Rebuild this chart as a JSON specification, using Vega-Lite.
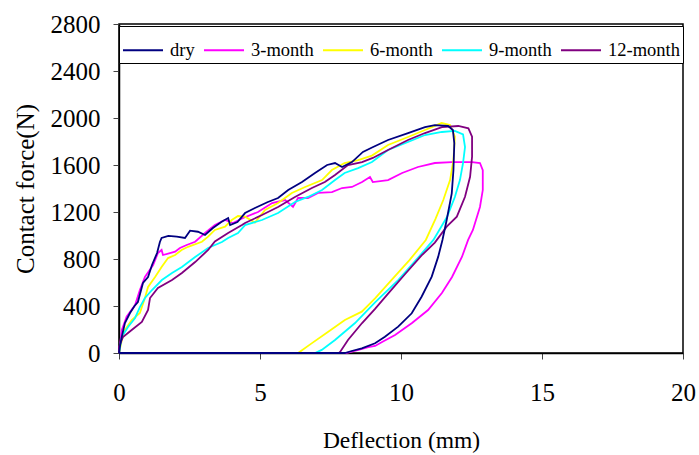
{
"$schema": "https://vega.github.io/schema/vega-lite/v6.json",
"width": 564, "height": 329,
"autosize": {"type": "none"},
"padding": {"left": 119, "top": 24, "right": 16, "bottom": 102},
"background": "white",
"config": {"view": {"stroke": "black", "strokeWidth": 1.5}, "font": "Liberation Serif",
  "axis": {"labelFont": "Liberation Serif", "titleFont": "Liberation Serif"},
  "legend": {"labelFont": "Liberation Serif"}},
"data": {"values": [
{"s":"3-month","i":0,"x":0,"y":0},{"s":"3-month","i":1,"x":0.1,"y":196},{"s":"3-month","i":2,"x":0.27,"y":309},{"s":"3-month","i":3,"x":0.57,"y":408},{"s":"3-month","i":4,"x":0.74,"y":536},{"s":"3-month","i":5,"x":0.92,"y":647},{"s":"3-month","i":6,"x":1.21,"y":749},{"s":"3-month","i":7,"x":1.38,"y":851},{"s":"3-month","i":8,"x":1.51,"y":877},{"s":"3-month","i":9,"x":1.56,"y":834},{"s":"3-month","i":10,"x":1.99,"y":862},{"s":"3-month","i":11,"x":2.16,"y":894},{"s":"3-month","i":12,"x":2.4,"y":919},{"s":"3-month","i":13,"x":2.7,"y":947},{"s":"3-month","i":14,"x":3.05,"y":1021},{"s":"3-month","i":15,"x":3.4,"y":1089},{"s":"3-month","i":16,"x":3.76,"y":1132},{"s":"3-month","i":17,"x":4.04,"y":1106},{"s":"3-month","i":18,"x":4.4,"y":1149},{"s":"3-month","i":19,"x":4.93,"y":1200},{"s":"3-month","i":20,"x":5.43,"y":1276},{"s":"3-month","i":21,"x":5.89,"y":1302},{"s":"3-month","i":22,"x":6.17,"y":1243},{"s":"3-month","i":23,"x":6.35,"y":1319},{"s":"3-month","i":24,"x":6.7,"y":1319},{"s":"3-month","i":25,"x":7.06,"y":1362},{"s":"3-month","i":26,"x":7.55,"y":1370},{"s":"3-month","i":27,"x":7.91,"y":1404},{"s":"3-month","i":28,"x":8.26,"y":1413},{"s":"3-month","i":29,"x":8.62,"y":1455},{"s":"3-month","i":30,"x":8.9,"y":1498},{"s":"3-month","i":31,"x":9.0,"y":1455},{"s":"3-month","i":32,"x":9.54,"y":1472},{"s":"3-month","i":33,"x":10.04,"y":1532},{"s":"3-month","i":34,"x":10.6,"y":1583},{"s":"3-month","i":35,"x":11.2,"y":1617},{"s":"3-month","i":36,"x":11.8,"y":1625},{"s":"3-month","i":37,"x":12.52,"y":1625},{"s":"3-month","i":38,"x":12.8,"y":1617},{"s":"3-month","i":39,"x":12.9,"y":1557},{"s":"3-month","i":40,"x":12.9,"y":1387},{"s":"3-month","i":41,"x":12.8,"y":1243},{"s":"3-month","i":42,"x":12.55,"y":1047},{"s":"3-month","i":43,"x":12.38,"y":962},{"s":"3-month","i":44,"x":12.16,"y":817},{"s":"3-month","i":45,"x":11.81,"y":647},{"s":"3-month","i":46,"x":11.45,"y":511},{"s":"3-month","i":47,"x":10.96,"y":366},{"s":"3-month","i":48,"x":10.39,"y":255},{"s":"3-month","i":49,"x":9.79,"y":153},{"s":"3-month","i":50,"x":9.33,"y":94},{"s":"3-month","i":51,"x":9.08,"y":60},{"s":"3-month","i":52,"x":8.84,"y":50},{"s":"3-month","i":53,"x":8.49,"y":26},{"s":"3-month","i":54,"x":8.05,"y":0},{"s":"3-month","i":55,"x":0,"y":0},
{"s":"6-month","i":0,"x":0,"y":0},{"s":"6-month","i":1,"x":0.1,"y":111},{"s":"6-month","i":2,"x":0.21,"y":196},{"s":"6-month","i":3,"x":0.45,"y":281},{"s":"6-month","i":4,"x":0.74,"y":340},{"s":"6-month","i":5,"x":0.92,"y":468},{"s":"6-month","i":6,"x":1.03,"y":562},{"s":"6-month","i":7,"x":1.28,"y":647},{"s":"6-month","i":8,"x":1.51,"y":732},{"s":"6-month","i":9,"x":1.74,"y":808},{"s":"6-month","i":10,"x":1.99,"y":834},{"s":"6-month","i":11,"x":2.22,"y":877},{"s":"6-month","i":12,"x":2.45,"y":904},{"s":"6-month","i":13,"x":2.94,"y":947},{"s":"6-month","i":14,"x":3.16,"y":990},{"s":"6-month","i":15,"x":3.4,"y":1047},{"s":"6-month","i":16,"x":3.76,"y":1075},{"s":"6-month","i":17,"x":4.0,"y":1132},{"s":"6-month","i":18,"x":4.22,"y":1166},{"s":"6-month","i":19,"x":4.47,"y":1160},{"s":"6-month","i":20,"x":4.82,"y":1110},{"s":"6-month","i":21,"x":5.18,"y":1217},{"s":"6-month","i":22,"x":5.64,"y":1276},{"s":"6-month","i":23,"x":6.13,"y":1362},{"s":"6-month","i":24,"x":6.6,"y":1413},{"s":"6-month","i":25,"x":7.2,"y":1472},{"s":"6-month","i":26,"x":7.55,"y":1557},{"s":"6-month","i":27,"x":8.0,"y":1617},{"s":"6-month","i":28,"x":8.48,"y":1642},{"s":"6-month","i":29,"x":8.97,"y":1680},{"s":"6-month","i":30,"x":9.54,"y":1770},{"s":"6-month","i":31,"x":10.25,"y":1838},{"s":"6-month","i":32,"x":10.85,"y":1898},{"s":"6-month","i":33,"x":11.44,"y":1957},{"s":"6-month","i":34,"x":11.74,"y":1940},{"s":"6-month","i":35,"x":11.91,"y":1841},{"s":"6-month","i":36,"x":11.86,"y":1642},{"s":"6-month","i":37,"x":11.74,"y":1472},{"s":"6-month","i":38,"x":11.5,"y":1302},{"s":"6-month","i":39,"x":11.22,"y":1140},{"s":"6-month","i":40,"x":10.88,"y":962},{"s":"6-month","i":41,"x":10.3,"y":790},{"s":"6-month","i":42,"x":9.7,"y":630},{"s":"6-month","i":43,"x":9.08,"y":465},{"s":"6-month","i":44,"x":8.61,"y":352},{"s":"6-month","i":45,"x":8.01,"y":281},{"s":"6-month","i":46,"x":7.42,"y":181},{"s":"6-month","i":47,"x":6.83,"y":82},{"s":"6-month","i":48,"x":6.35,"y":0},{"s":"6-month","i":49,"x":0,"y":0},
{"s":"9-month","i":0,"x":0,"y":0},{"s":"9-month","i":1,"x":0.02,"y":26},{"s":"9-month","i":2,"x":0.1,"y":139},{"s":"9-month","i":3,"x":0.32,"y":221},{"s":"9-month","i":4,"x":0.57,"y":298},{"s":"9-month","i":5,"x":0.74,"y":391},{"s":"9-month","i":6,"x":0.92,"y":468},{"s":"9-month","i":7,"x":1.17,"y":536},{"s":"9-month","i":8,"x":1.52,"y":621},{"s":"9-month","i":9,"x":1.88,"y":681},{"s":"9-month","i":10,"x":2.23,"y":732},{"s":"9-month","i":11,"x":2.7,"y":817},{"s":"9-month","i":12,"x":3.16,"y":894},{"s":"9-month","i":13,"x":3.65,"y":945},{"s":"9-month","i":14,"x":3.87,"y":979},{"s":"9-month","i":15,"x":4.22,"y":1021},{"s":"9-month","i":16,"x":4.47,"y":1089},{"s":"9-month","i":17,"x":5.07,"y":1132},{"s":"9-month","i":18,"x":5.64,"y":1191},{"s":"9-month","i":19,"x":6.24,"y":1285},{"s":"9-month","i":20,"x":6.7,"y":1328},{"s":"9-month","i":21,"x":7.2,"y":1387},{"s":"9-month","i":22,"x":7.66,"y":1472},{"s":"9-month","i":23,"x":8.0,"y":1532},{"s":"9-month","i":24,"x":8.48,"y":1574},{"s":"9-month","i":25,"x":8.97,"y":1625},{"s":"9-month","i":26,"x":9.54,"y":1728},{"s":"9-month","i":27,"x":10.25,"y":1796},{"s":"9-month","i":28,"x":10.85,"y":1855},{"s":"9-month","i":29,"x":11.45,"y":1881},{"s":"9-month","i":30,"x":11.91,"y":1890},{"s":"9-month","i":31,"x":12.2,"y":1860},{"s":"9-month","i":32,"x":12.27,"y":1753},{"s":"9-month","i":33,"x":12.2,"y":1617},{"s":"9-month","i":34,"x":12.09,"y":1472},{"s":"9-month","i":35,"x":11.91,"y":1328},{"s":"9-month","i":36,"x":11.63,"y":1157},{"s":"9-month","i":37,"x":11.15,"y":962},{"s":"9-month","i":38,"x":10.6,"y":810},{"s":"9-month","i":39,"x":9.9,"y":620},{"s":"9-month","i":40,"x":9.08,"y":430},{"s":"9-month","i":41,"x":8.37,"y":255},{"s":"9-month","i":42,"x":7.66,"y":111},{"s":"9-month","i":43,"x":7.19,"y":26},{"s":"9-month","i":44,"x":6.95,"y":0},{"s":"9-month","i":45,"x":0,"y":0},
{"s":"12-month","i":0,"x":0,"y":0},{"s":"12-month","i":1,"x":0,"y":51},{"s":"12-month","i":2,"x":0.14,"y":136},{"s":"12-month","i":3,"x":0.45,"y":196},{"s":"12-month","i":4,"x":0.81,"y":264},{"s":"12-month","i":5,"x":1.03,"y":366},{"s":"12-month","i":6,"x":1.1,"y":468},{"s":"12-month","i":7,"x":1.38,"y":553},{"s":"12-month","i":8,"x":1.88,"y":621},{"s":"12-month","i":9,"x":2.23,"y":681},{"s":"12-month","i":10,"x":2.7,"y":774},{"s":"12-month","i":11,"x":3.16,"y":877},{"s":"12-month","i":12,"x":3.4,"y":950},{"s":"12-month","i":13,"x":3.87,"y":1021},{"s":"12-month","i":14,"x":4.36,"y":1089},{"s":"12-month","i":15,"x":4.47,"y":1106},{"s":"12-month","i":16,"x":5.07,"y":1174},{"s":"12-month","i":17,"x":5.64,"y":1243},{"s":"12-month","i":18,"x":6.24,"y":1328},{"s":"12-month","i":19,"x":6.84,"y":1404},{"s":"12-month","i":20,"x":7.3,"y":1455},{"s":"12-month","i":21,"x":7.66,"y":1515},{"s":"12-month","i":22,"x":8.12,"y":1600},{"s":"12-month","i":23,"x":8.62,"y":1625},{"s":"12-month","i":24,"x":9.0,"y":1660},{"s":"12-month","i":25,"x":9.54,"y":1728},{"s":"12-month","i":26,"x":10.25,"y":1813},{"s":"12-month","i":27,"x":10.85,"y":1872},{"s":"12-month","i":28,"x":11.45,"y":1923},{"s":"12-month","i":29,"x":12.03,"y":1932},{"s":"12-month","i":30,"x":12.39,"y":1912},{"s":"12-month","i":31,"x":12.52,"y":1841},{"s":"12-month","i":32,"x":12.52,"y":1671},{"s":"12-month","i":33,"x":12.45,"y":1500},{"s":"12-month","i":34,"x":12.27,"y":1330},{"s":"12-month","i":35,"x":11.98,"y":1160},{"s":"12-month","i":36,"x":11.62,"y":1075},{"s":"12-month","i":37,"x":11.2,"y":940},{"s":"12-month","i":38,"x":10.73,"y":830},{"s":"12-month","i":39,"x":10.14,"y":670},{"s":"12-month","i":40,"x":9.55,"y":508},{"s":"12-month","i":41,"x":9.08,"y":375},{"s":"12-month","i":42,"x":8.62,"y":255},{"s":"12-month","i":43,"x":8.12,"y":111},{"s":"12-month","i":44,"x":7.84,"y":9},{"s":"12-month","i":45,"x":7.8,"y":0},{"s":"12-month","i":46,"x":0,"y":0},
{"s":"dry","i":0,"x":0,"y":0},{"s":"dry","i":1,"x":0.05,"y":80},{"s":"dry","i":2,"x":0.1,"y":139},{"s":"dry","i":3,"x":0.21,"y":255},{"s":"dry","i":4,"x":0.39,"y":340},{"s":"dry","i":5,"x":0.55,"y":400},{"s":"dry","i":6,"x":0.67,"y":434},{"s":"dry","i":7,"x":0.85,"y":596},{"s":"dry","i":8,"x":1.03,"y":647},{"s":"dry","i":9,"x":1.17,"y":749},{"s":"dry","i":10,"x":1.35,"y":851},{"s":"dry","i":11,"x":1.45,"y":945},{"s":"dry","i":12,"x":1.51,"y":979},{"s":"dry","i":13,"x":1.75,"y":996},{"s":"dry","i":14,"x":2.05,"y":990},{"s":"dry","i":15,"x":2.34,"y":979},{"s":"dry","i":16,"x":2.52,"y":1041},{"s":"dry","i":17,"x":2.8,"y":1032},{"s":"dry","i":18,"x":3.05,"y":1004},{"s":"dry","i":19,"x":3.33,"y":1064},{"s":"dry","i":20,"x":3.64,"y":1117},{"s":"dry","i":21,"x":3.87,"y":1149},{"s":"dry","i":22,"x":3.94,"y":1089},{"s":"dry","i":23,"x":4.2,"y":1115},{"s":"dry","i":24,"x":4.47,"y":1191},{"s":"dry","i":25,"x":4.82,"y":1234},{"s":"dry","i":26,"x":5.28,"y":1285},{"s":"dry","i":27,"x":5.64,"y":1319},{"s":"dry","i":28,"x":6.0,"y":1387},{"s":"dry","i":29,"x":6.49,"y":1455},{"s":"dry","i":30,"x":6.95,"y":1532},{"s":"dry","i":31,"x":7.38,"y":1600},{"s":"dry","i":32,"x":7.66,"y":1617},{"s":"dry","i":33,"x":7.91,"y":1583},{"s":"dry","i":34,"x":8.26,"y":1625},{"s":"dry","i":35,"x":8.65,"y":1711},{"s":"dry","i":36,"x":9.01,"y":1753},{"s":"dry","i":37,"x":9.54,"y":1813},{"s":"dry","i":38,"x":10.25,"y":1872},{"s":"dry","i":39,"x":10.85,"y":1923},{"s":"dry","i":40,"x":11.2,"y":1940},{"s":"dry","i":41,"x":11.67,"y":1932},{"s":"dry","i":42,"x":11.84,"y":1898},{"s":"dry","i":43,"x":11.89,"y":1785},{"s":"dry","i":44,"x":11.86,"y":1557},{"s":"dry","i":45,"x":11.8,"y":1359},{"s":"dry","i":46,"x":11.62,"y":1132},{"s":"dry","i":47,"x":11.47,"y":962},{"s":"dry","i":48,"x":11.32,"y":820},{"s":"dry","i":49,"x":11.09,"y":650},{"s":"dry","i":50,"x":10.73,"y":479},{"s":"dry","i":51,"x":10.38,"y":338},{"s":"dry","i":52,"x":9.9,"y":224},{"s":"dry","i":53,"x":9.43,"y":139},{"s":"dry","i":54,"x":9.08,"y":83},{"s":"dry","i":55,"x":8.61,"y":40},{"s":"dry","i":56,"x":8.25,"y":17},{"s":"dry","i":57,"x":8.01,"y":0},{"s":"dry","i":58,"x":0,"y":0}
]},
"mark": {"type": "line", "strokeWidth": 1.8},
"encoding": {
  "x": {"field": "x", "type": "quantitative",
    "scale": {"domain": [0, 20], "nice": false, "zero": false},
    "axis": {"title": "Deflection (mm)", "values": [0, 5, 10, 15, 20], "grid": false, "format": "d",
      "domainColor": "black", "domainWidth": 1.5, "tickColor": "#444", "tickSize": 6, "tickWidth": 1,
      "labelFont": "Liberation Serif", "labelFontSize": 25, "labelColor": "black", "labelPadding": 21, "labelFlush": false,
      "titleFont": "Liberation Serif", "titleFontSize": 23.5, "titleFontWeight": "normal", "titleColor": "black", "titlePadding": 23}},
  "y": {"field": "y", "type": "quantitative",
    "scale": {"domain": [0, 2800], "nice": false},
    "axis": {"title": "Contact force(N)", "values": [0, 400, 800, 1200, 1600, 2000, 2400, 2800], "grid": false, "format": "d",
      "domainColor": "black", "domainWidth": 1.5, "tickColor": "#444", "tickSize": 6, "tickWidth": 1,
      "labelFont": "Liberation Serif", "labelFontSize": 25, "labelColor": "black", "labelPadding": 13, "labelFlush": false,
      "titleFont": "Liberation Serif", "titleFontSize": 25, "titleFontWeight": "normal", "titleColor": "black", "titlePadding": 12}},
  "color": {"field": "s", "type": "nominal",
    "scale": {"domain": ["dry", "3-month", "6-month", "9-month", "12-month"],
              "range": ["#000080", "#FF00FF", "#FFFF00", "#00FFFF", "#800080"]},
    "legend": {"title": null, "orient": "none", "legendX": 0, "legendY": 2, "direction": "horizontal",
      "symbolType": "stroke", "symbolSize": 1600, "symbolStrokeWidth": 2,
      "labelFont": "Liberation Serif", "labelFontSize": 18.5, "labelColor": "black", "labelOffset": 6,
      "columnPadding": 5, "padding": 3, "strokeColor": "black", "fillColor": "white"}},
  "order": {"field": "i", "type": "quantitative"}
}
}
